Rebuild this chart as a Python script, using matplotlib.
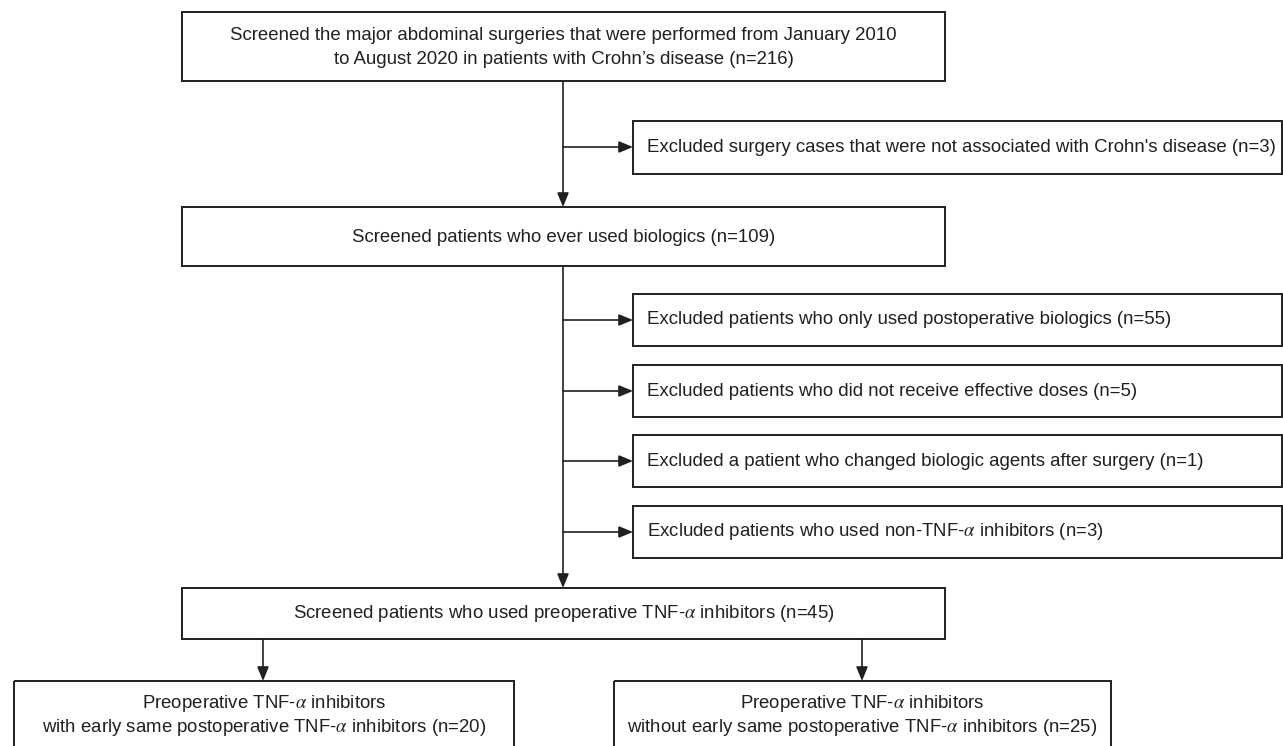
import matplotlib
matplotlib.use("Agg")
import matplotlib.pyplot as plt
from matplotlib.patches import Rectangle

plt.rcParams['font.family'] = ['Liberation Sans', 'DejaVu Sans']
plt.rcParams['mathtext.fontset'] = 'stix'

# flowchart texts
top_text = ["Screened the major abdominal surgeries that were performed from January 2010",
            "to August 2020 in patients with Crohn\u2019s disease (n=216)"]
excl_first = "Excluded surgery cases that were not associated with Crohn's disease (n=3)"
biologics_text = "Screened patients who ever used biologics (n=109)"
excl_texts = ["Excluded patients who only used postoperative biologics (n=55)",
              "Excluded patients who did not receive effective doses (n=5)",
              "Excluded a patient who changed biologic agents after surgery (n=1)",
              r"Excluded patients who used non-TNF-$\alpha$ inhibitors (n=3)"]
tnf_text = r"Screened patients who used preoperative TNF-$\alpha$ inhibitors (n=45)"
group_texts = [[r"Preoperative TNF-$\alpha$ inhibitors",
                r"with early same postoperative TNF-$\alpha$ inhibitors (n=20)"],
               [r"Preoperative TNF-$\alpha$ inhibitors",
                r"without early same postoperative TNF-$\alpha$ inhibitors (n=25)"]]

W, H = 1283, 746
fig = plt.figure(figsize=(W / 100, H / 100), dpi=100)
ax = fig.add_axes([0, 0, 1, 1])
ax.set_xlim(0, W)
ax.set_ylim(H, 0)
ax.axis('off')

ink = '#231f20'
fs = 13.4


def box(x0, y0, x1, y1):
    ax.add_patch(Rectangle((x0, y0), x1 - x0, y1 - y0, fill=False,
                           edgecolor=ink, lw=1.4))


def arrow(x0, y0, x1, y1):
    ax.annotate('', xy=(x1, y1), xytext=(x0, y0),
                arrowprops=dict(arrowstyle='-|>,head_length=0.85,head_width=0.35',
                                color=ink, lw=1.2, shrinkA=0, shrinkB=0),
                annotation_clip=False)


main_l, main_r, spine_x = 182, 945, 563
ex_l, ex_r = 633, 1282

# top box
box(main_l, 12, main_r, 81)
for i, t in enumerate(top_text):
    ax.text((main_l + main_r) / 2, 35 + i * 24, t, ha='center', va='center', fontsize=fs, color=ink)

arrow(spine_x, 81, spine_x, 207)
arrow(spine_x, 147, ex_l, 147)
box(ex_l, 121, ex_r, 174)
ax.text(ex_l + 14, 147, excl_first, ha='left', va='center', fontsize=fs, color=ink)

# biologics box
box(main_l, 207, main_r, 266)
ax.text((main_l + main_r) / 2, 237, biologics_text, ha='center', va='center', fontsize=fs, color=ink)

arrow(spine_x, 266, spine_x, 588)
ex_tops = [294, 365, 435, 506]
for top, t in zip(ex_tops, excl_texts):
    mid = top + 26
    arrow(spine_x, mid, ex_l, mid)
    box(ex_l, top, ex_r, top + 52)
    ax.text(ex_l + 14, mid, t, ha='left', va='center', fontsize=fs, color=ink)

# TNF box
box(main_l, 588, main_r, 639)
ax.text((main_l + main_r) / 2, 613, tnf_text, ha='center', va='center', fontsize=fs, color=ink)

# bottom groups
groups = [(14, 514, 263), (614, 1111, 862)]
for (gl, gr, ax_x), lines_ in zip(groups, group_texts):
    arrow(ax_x, 639, ax_x, 681)
    box(gl, 681, gr, 770)
    for i, t in enumerate(lines_):
        ax.text((gl + gr) / 2, 704 + i * 24, t, ha='center', va='center', fontsize=fs, color=ink)

fig.savefig('out.png', dpi=100)
